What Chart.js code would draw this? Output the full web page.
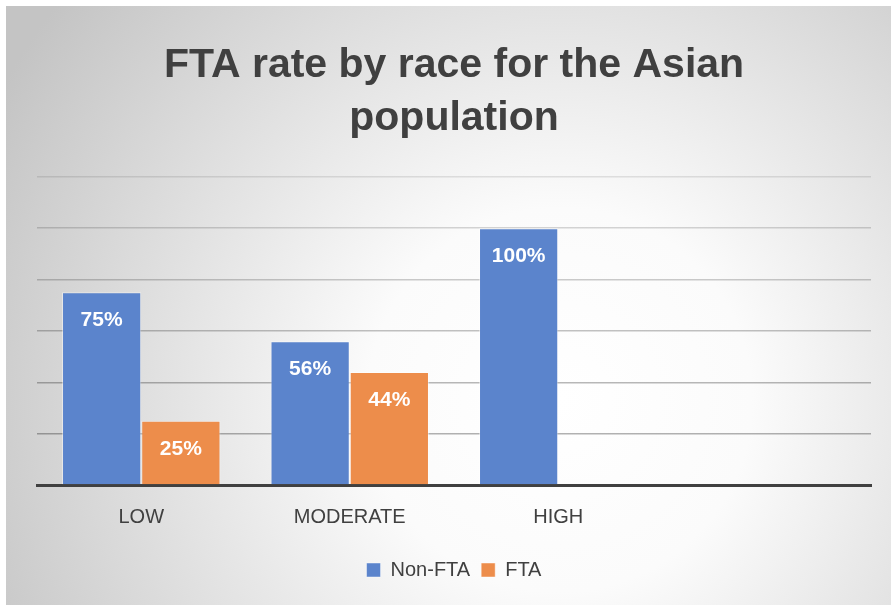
<!DOCTYPE html>
<html>
<head>
<meta charset="utf-8">
<script src="https://cdn.jsdelivr.net/npm/chart.js@4/dist/chart.umd.min.js"></script>
<style>
  html, body { margin: 0; padding: 0; background: #ffffff; }
  #wrap { width: 891px; height: 605px; position: relative; }
</style>
</head>
<body>
<div id="wrap"><canvas id="c" width="891" height="605"></canvas></div>
<script>
const categories = ['LOW', 'MODERATE', 'HIGH', ''];
const seriesNames = ['Non-FTA', 'FTA'];
const nonFtaValues = [75, 56, 100, null];
const ftaValues = [25, 44, 0, null];
const titleLines = ['FTA rate by race for the Asian', 'population'];
const yMin = 0, yMax = 120, yStep = 20;

const bgPlugin = {
  id: 'bg',
  beforeDraw(chart) {
    const ctx = chart.ctx;
    ctx.save();
    ctx.fillStyle = '#ffffff';
    ctx.fillRect(0, 0, chart.width, chart.height);
    const g = ctx.createRadialGradient(560, 400, 0, 560, 400, 640);
    g.addColorStop(0, '#ffffff');
    g.addColorStop(0.3, '#fbfbfb');
    g.addColorStop(1, '#c4c4c4');
    ctx.fillStyle = g;
    ctx.fillRect(6, 6, chart.width - 6, chart.height - 6);
    ctx.restore();
  }
};

const labelPlugin = {
  id: 'barLabels',
  afterDatasetsDraw(chart) {
    const ctx = chart.ctx;
    ctx.save();
    ctx.font = 'bold 21px "Liberation Sans", Arial, sans-serif';
    ctx.fillStyle = '#ffffff';
    ctx.textAlign = 'center';
    ctx.textBaseline = 'middle';
    chart.data.datasets.forEach((ds, di) => {
      const meta = chart.getDatasetMeta(di);
      meta.data.forEach((el, i) => {
        const v = ds.data[i];
        if (v === null || v === 0) return;
        ctx.fillText(v + '%', el.x, el.y + 28);
      });
    });
    ctx.restore();
  }
};

const gridColors = ['rgba(0,0,0,0)', 'rgba(0,0,0,0.30)', 'rgba(0,0,0,0.28)', 'rgba(0,0,0,0.24)', 'rgba(0,0,0,0.2)', 'rgba(0,0,0,0.16)', 'rgba(0,0,0,0.10)'];

new Chart(document.getElementById('c'), {
  type: 'bar',
  data: {
    labels: categories,
    datasets: [
      { label: seriesNames[0], data: nonFtaValues, backgroundColor: '#5b84cc', borderColor: 'rgba(255,255,255,0.45)', borderWidth: 1 },
      { label: seriesNames[1], data: ftaValues, backgroundColor: '#ed8d4b', borderColor: 'rgba(255,255,255,0.45)', borderWidth: 1 }
    ]
  },
  options: {
    responsive: false,
    animation: false,
    devicePixelRatio: 1,
    layout: { padding: { top: 6, left: 37, right: 20, bottom: 15 } },
    datasets: { bar: { categoryPercentage: 0.76, barPercentage: 1.0 } },
    plugins: {
      title: {
        display: true,
        text: titleLines,
        color: '#404040',
        font: { family: '"Liberation Sans", Arial, sans-serif', size: 41, weight: 'bold', lineHeight: 1.29 },
        padding: { top: 33, bottom: 32 }
      },
      legend: {
        position: 'bottom',
        labels: {
          color: '#404040',
          boxWidth: 14,
          boxHeight: 14,
          padding: 11,
          font: { family: '"Liberation Sans", Arial, sans-serif', size: 20 }
        }
      },
      tooltip: { enabled: false }
    },
    scales: {
      x: {
        grid: { display: false, drawTicks: false },
        border: { display: true, color: '#404040', width: 3 },
        ticks: {
          color: '#404040',
          padding: 20,
          font: { family: '"Liberation Sans", Arial, sans-serif', size: 20 }
        }
      },
      y: {
        min: yMin,
        max: yMax,
        ticks: { display: false, stepSize: yStep },
        border: { display: false },
        grid: {
          drawTicks: false,
          lineWidth: 1.5,
          color: (ctx) => gridColors[ctx.index] || 'rgba(0,0,0,0.15)'
        }
      }
    }
  },
  plugins: [bgPlugin, labelPlugin]
});
</script>
</body>
</html>
